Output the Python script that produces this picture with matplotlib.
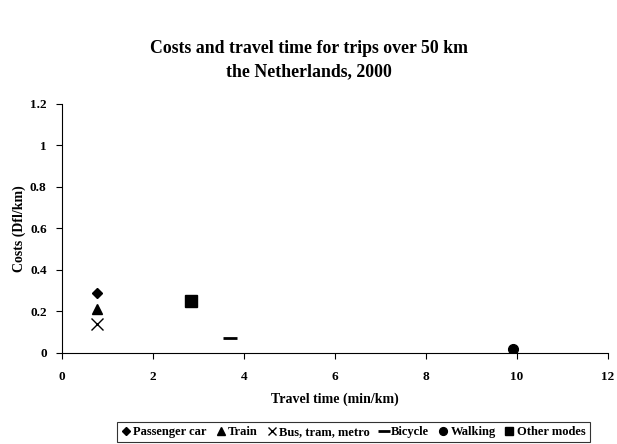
import matplotlib
matplotlib.use("Agg")
import matplotlib.pyplot as plt

# data
modes = ["Passenger car", "Train", "Bus, tram, metro", "Bicycle", "Walking", "Other modes"]
travel_time = [0.76, 0.76, 0.76, 3.69, 9.91, 2.84]
costs = [0.29, 0.21, 0.14, 0.07, 0.02, 0.25]
markers = ["D", "^", "x", "_", "o", "s"]
sizes = [5, 7, 8, 10, 7, 8]

plt.rcParams["font.family"] = ["Liberation Serif", "DejaVu Serif"]
plt.rcParams["font.weight"] = "bold"

fig = plt.figure(figsize=(6.17, 4.44), dpi=100)
ax = fig.add_axes([0.1005, 0.205, 0.885, 0.561])

for m, x, y, mk, s in zip(modes, travel_time, costs, markers, sizes):
    ax.plot([x], [y], linestyle="none", marker=mk, markersize=s, color="black",
            markeredgewidth=1.0 if mk == "x" else 2.0 if mk == "_" else 1, label=m)

ax.set_xlim(0, 12)
ax.set_ylim(0, 1.2)
ax.set_xticks(range(0, 13, 2))
ax.set_yticks([0, 0.2, 0.4, 0.6, 0.8, 1, 1.2])
ax.set_yticklabels(["0", "0.2", "0.4", "0.6", "0.8", "1", "1.2"])
ax.spines["top"].set_visible(False)
ax.spines["right"].set_visible(False)
ax.tick_params(labelsize=9.5, length=4, width=0.8, direction="out")
ax.tick_params(axis="x", pad=9)
ax.tick_params(axis="y", pad=7)
for lbl in ax.get_xticklabels() + ax.get_yticklabels():
    lbl.set_fontweight("bold")

ax.set_xlabel("Travel time (min/km)", fontsize=10, fontweight="bold", labelpad=7)
ax.set_ylabel("Costs (Dfl/km)", fontsize=10, fontweight="bold", labelpad=3)
fig.text(0.5, 0.865, "Costs and travel time for trips over 50 km\nthe Netherlands, 2000",
         ha="center", va="center", fontsize=12.8, fontweight="bold", linespacing=1.5)

leg = fig.legend(loc="lower center", bbox_to_anchor=(0.573, -0.005), ncol=6, fontsize=9,
                 frameon=True, fancybox=False, handlelength=0.7, handletextpad=0.25,
                 columnspacing=0.75, borderpad=0.35, markerscale=0.8, borderaxespad=0.3)
leg.get_frame().set_edgecolor("black")
leg.get_frame().set_linewidth(0.8)
for t in leg.get_texts():
    t.set_fontweight("bold")

fig.savefig("out.png", dpi=100)
